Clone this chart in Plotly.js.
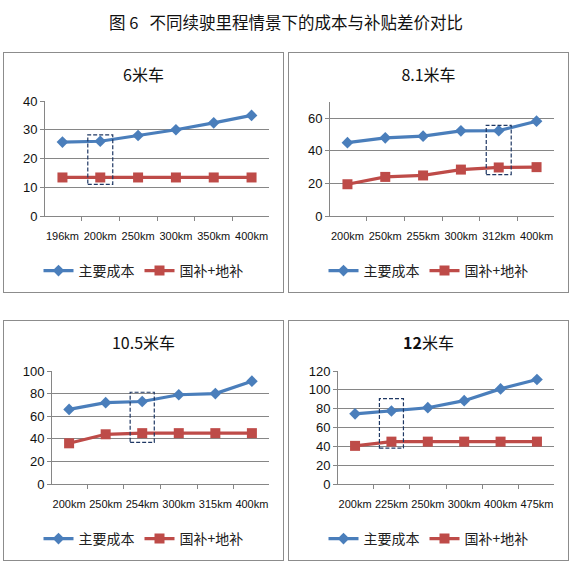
<!DOCTYPE html>
<html>
<head>
<meta charset="utf-8">
<script src="https://cdn.plot.ly/plotly-3.0.1.min.js"></script>
<style>
    body { margin: 0; background: #fff; width: 572px; height: 564px; position: relative; overflow: hidden; }
    #mainTitle {
        position: absolute; left: 0; top: 10px; width: 572px; text-align: center;
        font-family: 'Noto Sans CJK SC', sans-serif; font-size: 16.5px; color: #111;
    }
    .panel { position: absolute; width: 279px; height: 239px; border: 1px solid #8c8c8c; }
    .panel > div { width: 279px; height: 239px; }
</style>
</head>
<body>
<div id="mainTitle">图 6&nbsp;&nbsp;&nbsp;不同续驶里程情景下的成本与补贴差价对比</div>
<div class="panel" style="left:3px; top:52px;"><div id="chart6"></div></div>
<div class="panel" style="left:288px; top:52px;"><div id="chart81"></div></div>
<div class="panel" style="left:3px; top:320px;"><div id="chart105"></div></div>
<div class="panel" style="left:288px; top:320px;"><div id="chart12"></div></div>
<script>
    // ── Data ─────────────────────────────────────────────────────────────────
    const seriesNames = ['主要成本', '国补+地补'];

    const cats6   = ['196km', '200km', '250km', '300km', '350km', '400km'];
    const cost6   = [25.7, 26, 28, 30, 32.4, 35];
    const sub6    = [13.4, 13.4, 13.4, 13.4, 13.4, 13.4];

    const cats81  = ['200km', '250km', '255km', '300km', '312km', '400km'];
    const cost81  = [45, 48, 49, 52.3, 52.4, 58.2];
    const sub81   = [19.5, 24, 24.9, 28.5, 29.8, 30];

    const cats105 = ['200km', '250km', '254km', '300km', '315km', '400km'];
    const cost105 = [66, 72, 73, 79, 80, 91];
    const sub105  = [36, 44, 45, 45, 45, 45];

    const cats12  = ['200km', '225km', '250km', '300km', '400km', '475km'];
    const cost12  = [74.5, 77.5, 81, 88.5, 101, 111];
    const sub12   = [40.5, 45, 45, 45, 45, 45];

    const BLUE = '#4a7ebb';
    const RED  = '#be4b48';
    const GRID = '#868686';
    const FONT = 'Liberation Sans, Arial, Noto Sans CJK SC, sans-serif';

    // ── One small line chart per panel ───────────────────────────────────────
    function drawPanel(id, opts) {
        const traces = [
            {
                x: opts.cats, y: opts.cost, name: seriesNames[0],
                type: 'scatter', mode: 'lines+markers',
                line: { color: BLUE, width: 3.2 },
                marker: { symbol: 'diamond', size: 9, color: BLUE }
            },
            {
                x: opts.cats, y: opts.sub, name: seriesNames[1],
                type: 'scatter', mode: 'lines+markers',
                line: { color: RED, width: 3.2 },
                marker: { symbol: 'square', size: 10, color: RED }
            }
        ];
        const layout = {
            width: 279, height: 239,
            margin: { t: opts.t, r: 14, b: 76, l: opts.l },
            title: {
                text: opts.title, x: 0.5, xanchor: 'center',
                y: 1 - 22 / 239, yref: 'container', yanchor: 'middle',
                font: { family: 'Noto Sans CJK SC, ' + FONT, size: 16, color: '#111' }
            },
            showlegend: true,
            legend: {
                orientation: 'h', xref: 'container', yref: 'container',
                x: 0.5, xanchor: 'center', y: 1 - 218 / 239, yanchor: 'middle',
                font: { family: 'Noto Sans CJK SC, ' + FONT, size: 14, color: '#222' },
                itemwidth: 30, traceorder: 'normal'
            },
            xaxis: {
                type: 'category', showgrid: false,
                showline: true, linecolor: GRID, linewidth: 1,
                ticks: 'outside', tickson: 'boundaries', ticklen: 4, tickcolor: GRID,
                tickangle: 0, ticklabelstandoff: 10,
                tickfont: { family: FONT, size: 11, color: '#111' },
                fixedrange: true
            },
            yaxis: {
                range: opts.range, dtick: opts.dtick,
                showgrid: true, gridcolor: GRID, gridwidth: 1,
                showline: true, linecolor: GRID, linewidth: 1,
                ticks: 'outside', ticklen: 4, tickcolor: GRID,
                zeroline: false,
                tickfont: { family: FONT, size: 13, color: '#111' },
                fixedrange: true
            },
            // dashed highlight box round one range
            shapes: [{
                type: 'rect', xref: 'x', yref: 'y',
                x0: opts.box[0] - 0.33, x1: opts.box[0] + 0.33,
                y0: opts.box[1], y1: opts.box[2],
                line: { color: '#1f3864', width: 1.2, dash: '4px,2px' },
                fillcolor: 'rgba(0,0,0,0)'
            }],
            paper_bgcolor: '#fff',
            plot_bgcolor: '#fff',
            font: { family: FONT }
        };
        Plotly.newPlot(id, traces, layout, { displayModeBar: false, staticPlot: true });
    }

    drawPanel('chart6', {
        title: '6米车', cats: cats6, cost: cost6, sub: sub6,
        range: [0, 40], dtick: 10, l: 41, t: 48, box: [1, 11, 28.2]
    });
    drawPanel('chart81', {
        title: '8.1米车', cats: cats81, cost: cost81, sub: sub81,
        range: [0, 70], dtick: 20, l: 41, t: 49, box: [4, 25.4, 55.7]
    });
    drawPanel('chart105', {
        title: '10.5米车', cats: cats105, cost: cost105, sub: sub105,
        range: [0, 100], dtick: 20, l: 48, t: 50, box: [2, 36.8, 81.2]
    });
    drawPanel('chart12', {
        title: '<b>12</b>米车', cats: cats12, cost: cost12, sub: sub12,
        range: [0, 120], dtick: 20, l: 49, t: 50, box: [1, 38.1, 90.7]
    });
</script>
</body>
</html>
